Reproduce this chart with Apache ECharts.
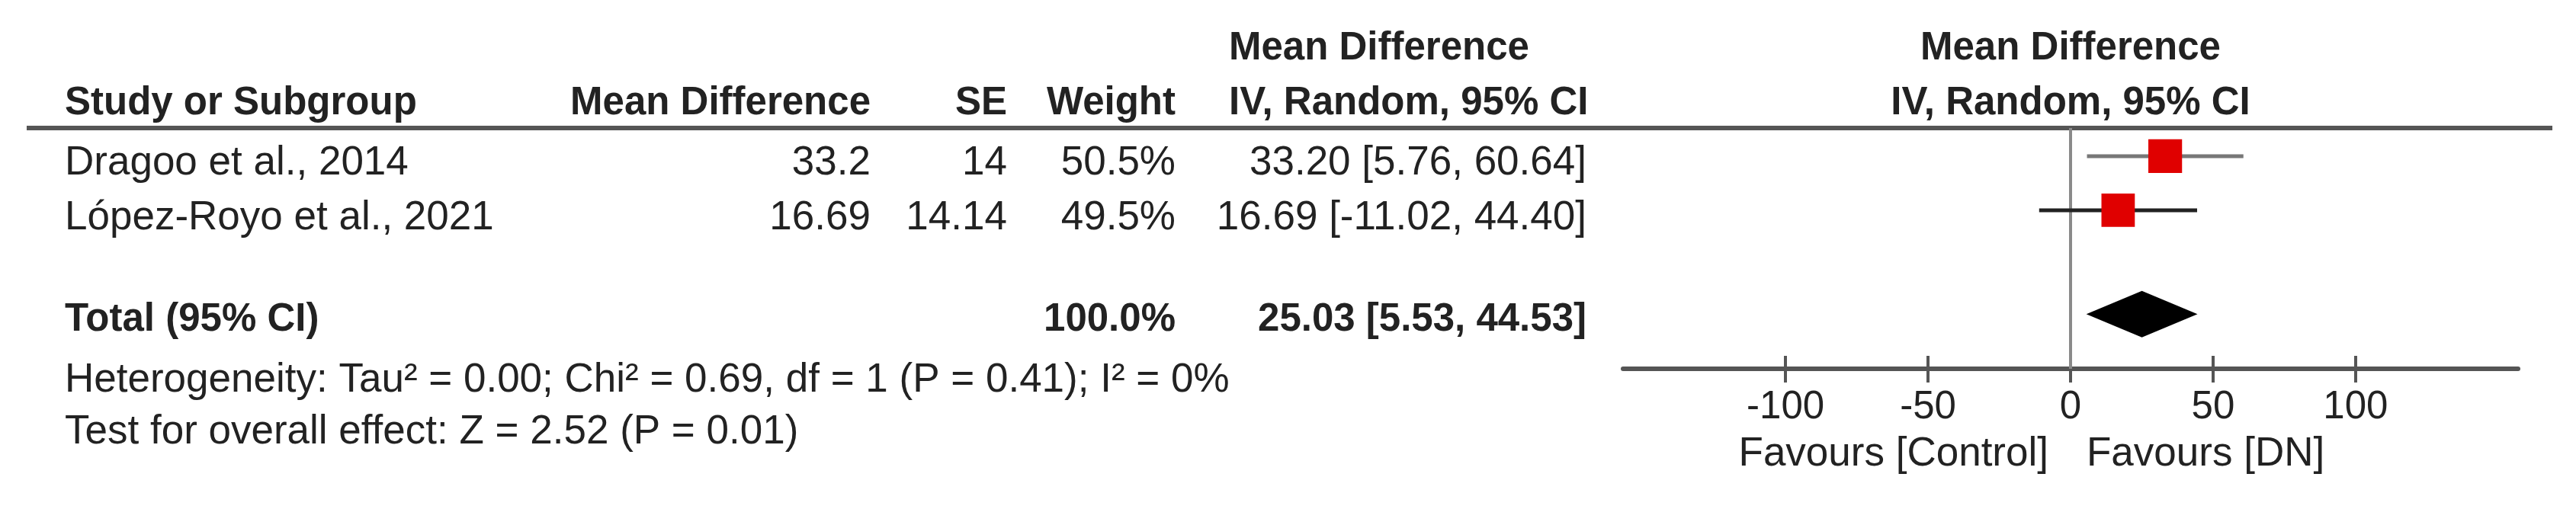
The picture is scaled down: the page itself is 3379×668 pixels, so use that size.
<!DOCTYPE html>
<html>
<head>
<meta charset="utf-8">
<script src="https://cdn.jsdelivr.net/npm/echarts@6/dist/echarts.min.js"></script>
<style>
  html, body { margin: 0; padding: 0; background: #fff; }
  #chart { width: 3379px; height: 668px; }
</style>
</head>
<body>
<div id="chart"></div>
<script>
// --- DATA ---
const studies = ['Dragoo et al., 2014', 'López-Royo et al., 2021'];
const meanDiff = [33.2, 16.69];
const stdErr = [14, 14.14];
const weights = [50.5, 49.5];
const ciLow = [5.76, -11.02];
const ciHigh = [60.64, 44.40];
const totalLabel = 'Total (95% CI)';
const totalWeight = 100.0;
const totalEffect = [25.03, 5.53, 44.53]; // estimate, low, high
const heterogeneityText = 'Heterogeneity: Tau² = 0.00; Chi² = 0.69, df = 1 (P = 0.41); I² = 0%';
const overallText = 'Test for overall effect: Z = 2.52 (P = 0.01)';
const tickValues = [-100, -50, 0, 50, 100];
const favoursLeft = 'Favours [Control]';
const favoursRight = 'Favours [DN]';

// --- LAYOUT ---
const FONT = '"Liberation Sans", Arial, sans-serif';
const REG = `53px ${FONT}`;
const BOLD = `bold 51px ${FONT}`;
const TXT = '#222';
const ROW_Y = [0.52, 1.52];   // row positions on the plot's y scale
const TOTAL_Y = 3.44;
const Y_MAX = 4.45;
const CI_COLORS = ['#777', '#222'];
const COL = { name: 85, md: 1142, se: 1321, weight: 1542, ciLeft: 1612, ci: 2081, plotMid: 2716 };
const BASE = { h1: 64, h2: 136, r1: 214, r2: 286, total: 420, het: 499, test: 567, fav: 596 };

const chart = echarts.init(document.getElementById('chart'));

function txt(text, x, y, align, font) {
    return { type: 'text', x, y, silent: true,
        style: { text, x: 0, y: 0, font: font || REG, fill: TXT, align, verticalAlign: 'middle' } };
}

const graphics = [
    // header rule
    { type: 'line', silent: true, shape: { x1: 35, y1: 168, x2: 3348, y2: 168 },
      style: { stroke: '#555', lineWidth: 6 } },
    txt('Study or Subgroup', COL.name, BASE.h2, 'left', BOLD),
    txt('Mean Difference', COL.md, BASE.h2, 'right', BOLD),
    txt('SE', COL.se, BASE.h2, 'right', BOLD),
    txt('Weight', COL.weight, BASE.h2, 'right', BOLD),
    txt('Mean Difference', COL.ciLeft, BASE.h1, 'left', BOLD),
    txt('IV, Random, 95% CI', COL.ciLeft, BASE.h2, 'left', BOLD),
    txt('Mean Difference', COL.plotMid, BASE.h1, 'center', BOLD),
    txt('IV, Random, 95% CI', COL.plotMid, BASE.h2, 'center', BOLD),
    txt(totalLabel, COL.name, BASE.total, 'left', BOLD),
    txt(totalWeight.toFixed(1) + '%', COL.weight, BASE.total, 'right', BOLD),
    txt(`${totalEffect[0].toFixed(2)} [${totalEffect[1].toFixed(2)}, ${totalEffect[2].toFixed(2)}]`, COL.ci, BASE.total, 'right', BOLD),
    txt(heterogeneityText, COL.name, BASE.het, 'left'),
    txt(overallText, COL.name, BASE.test, 'left'),
    txt(favoursLeft, 2687, BASE.fav, 'right'),
    txt(favoursRight, 2737, BASE.fav, 'left')
];

const rowBase = [BASE.r1, BASE.r2];
studies.forEach((s, i) => {
    const y = rowBase[i];
    graphics.push(
        txt(s, COL.name, y, 'left'),
        txt(String(meanDiff[i]), COL.md, y, 'right'),
        txt(String(stdErr[i]), COL.se, y, 'right'),
        txt(weights[i].toFixed(1) + '%', COL.weight, y, 'right'),
        txt(`${meanDiff[i].toFixed(2)} [${ciLow[i].toFixed(2)}, ${ciHigh[i].toFixed(2)}]`, COL.ci, y, 'right')
    );
});

const studyData = studies.map((s, i) => [meanDiff[i], ciLow[i], ciHigh[i], weights[i], ROW_Y[i], i]);

chart.setOption({
    backgroundColor: '#fff',
    animation: false,
    grid: { left: 2129, right: 76, top: 168, bottom: 184 },
    xAxis: [{
        type: 'value', min: -157, max: 157, position: 'bottom',
        axisLine: { onZero: false, lineStyle: { color: '#555', width: 6 } },
        axisTick: { customValues: tickValues, inside: true, length: 17, lineStyle: { color: '#555', width: 4 } },
        axisLabel: { customValues: tickValues, margin: 25, fontFamily: FONT, fontSize: 51, color: TXT },
        splitLine: { show: false }
    }, {
        type: 'value', min: -157, max: 157, position: 'bottom',
        axisLine: { show: false, onZero: false },
        axisTick: { customValues: tickValues, inside: false, length: 18, lineStyle: { color: '#555', width: 4 } },
        axisLabel: { show: false },
        splitLine: { show: false }
    }],
    yAxis: { type: 'value', min: 0, max: Y_MAX, inverse: true, show: false },
    graphic: graphics,
    series: [{
        // line of no effect
        type: 'line', z: 1, symbol: 'none', silent: true,
        data: [[0, 0], [0, Y_MAX]],
        lineStyle: { color: '#8a8a8a', width: 4 }
    }, {
        type: 'custom', z: 3, silent: true,
        data: studyData,
        renderItem: (params, api) => {
            const y = api.value(4);
            const lo = api.coord([api.value(1), y]);
            const hi = api.coord([api.value(2), y]);
            const c = api.coord([api.value(0), y]);
            const side = 44 * Math.sqrt(api.value(3) / 50);
            return { type: 'group', children: [
                { type: 'line', shape: { x1: lo[0], y1: lo[1], x2: hi[0], y2: hi[1] },
                  style: { stroke: CI_COLORS[api.value(5)], lineWidth: 5 } },
                { type: 'rect', shape: { x: c[0] - side / 2, y: c[1] - side / 2, width: side, height: side },
                  style: { fill: '#e00000' } }
            ] };
        }
    }, {
        type: 'custom', z: 3, silent: true,
        data: [[totalEffect[0], totalEffect[1], totalEffect[2], TOTAL_Y]],
        renderItem: (params, api) => {
            const y = api.value(3);
            const c = api.coord([api.value(0), y]);
            const lo = api.coord([api.value(1), y]);
            const hi = api.coord([api.value(2), y]);
            const h = 30.5;
            return { type: 'polygon',
                shape: { points: [[lo[0], c[1]], [c[0], c[1] - h], [hi[0], c[1]], [c[0], c[1] + h]] },
                style: { fill: '#000' } };
        }
    }]
});
</script>
</body>
</html>
